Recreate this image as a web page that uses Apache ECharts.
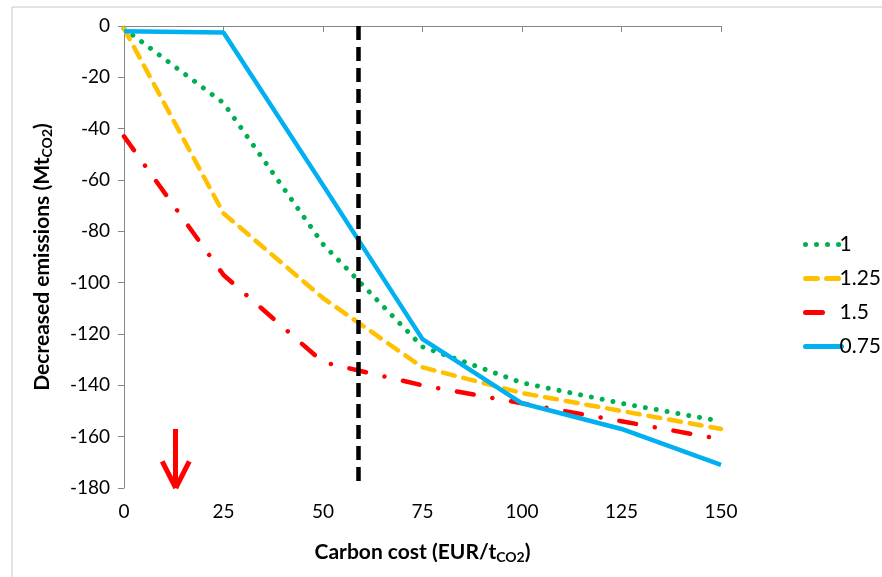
<!DOCTYPE html>
<html><head><meta charset="utf-8">
<script src="https://cdn.jsdelivr.net/npm/echarts@6/dist/echarts.min.js"></script>
<style>html,body{margin:0;padding:0;background:#fff}#c{width:882px;height:577px}</style>
</head><body><div id="c"></div>
<script>
var categories = [0, 25, 50, 75, 100, 125, 150];
var s1 = [-1, -30, -85, -125, -139, -147, -154];      // "1"
var s125 = [-1, -73, -106, -133, -143, -150, -157];   // "1.25"
var s15 = [-43, -97, -131, -140, -147, -154, -161];   // "1.5"
var s075 = [-2, -2.5, -62, -122, -147, -157, -171];   // "0.75"
var seriesNames = ['1', '1.25', '1.5', '0.75'];
var xTicks = [0, 25, 50, 75, 100, 125, 150];
var yTicks = [0, -20, -40, -60, -80, -100, -120, -140, -160, -180];
var refCost = 58.8;
var arrowX = 13, arrowTop = -157, arrowTip = -180;

function pairs(vals){ return categories.map(function(x,i){ return [x, vals[i]]; }); }
var FONT = 'Lato';
var chart = echarts.init(document.getElementById('c'));
chart.setOption({
  backgroundColor: '#fff',
  animation: false,
  grid: {left: 124, right: 161, top: 26, bottom: 89},
  legend: {
    orient: 'vertical', left: 798, top: 229, itemGap: 13, itemWidth: 36, itemHeight: 14,
    data: seriesNames,
    itemStyle: {opacity: 0},
    lineStyle: {width: 5, cap: 'round'},
    textStyle: {fontFamily: FONT, fontSize: 21, color: '#000', padding: [0,0,0,-7]}
  },
  xAxis: {
    type: 'value', min: 0, max: 150, interval: 25,
    name: '{b|Carbon cost (EUR/t}{s|CO2}{b|)}',
    nameLocation: 'middle', nameGap: 53,
    nameTextStyle: {rich: {
      b: {fontFamily: FONT, fontSize: 21, fontWeight: 'bold', color: '#000'},
      s: {fontFamily: FONT, fontSize: 14, fontWeight: 'bold', color: '#000', padding: [9,0,0,0]}
    }},
    axisLine: {lineStyle: {color: '#868686', width: 1}},
    axisTick: {show: true, length: 6, lineStyle: {color: '#868686'}},
    axisLabel: {fontFamily: FONT, fontSize: 19, color: '#000', margin: 14,
      formatter: function(v){ return xTicks.indexOf(v) >= 0 ? String(v) : ''; }},
    splitLine: {show: false}
  },
  yAxis: {
    type: 'value', min: -180, max: 0, interval: 20,
    name: '{b|Decreased emissions (Mt}{s|CO2}{b|)}',
    nameLocation: 'middle', nameGap: 70, nameRotate: 90,
    nameTextStyle: {rich: {
      b: {fontFamily: FONT, fontSize: 21, fontWeight: 'bold', color: '#000'},
      s: {fontFamily: FONT, fontSize: 14, fontWeight: 'bold', color: '#000', padding: [9,0,0,0]}
    }},
    axisLine: {show: true, onZero: false, lineStyle: {color: '#868686', width: 1}},
    axisTick: {show: true, length: 6, lineStyle: {color: '#868686'}},
    axisLabel: {fontFamily: FONT, fontSize: 19, color: '#000', margin: 14,
      formatter: function(v){ return yTicks.indexOf(v) >= 0 ? String(v) : ''; }},
    splitLine: {show: false}
  },
  graphic: [
    {type: 'line', shape: {x1: 12, y1: 7, x2: 882, y2: 7}, style: {stroke: '#c8c8c8', lineWidth: 1}},
    {type: 'line', shape: {x1: 12, y1: 7, x2: 12, y2: 577}, style: {stroke: '#c8c8c8', lineWidth: 1}}
  ],
  series: [
    {name: seriesNames[0], type: 'line', data: pairs(s1), symbol: 'none', z: 3,
     lineStyle: {color: '#00B050', width: 5, type: [0.01, 11], cap: 'round'}, itemStyle: {color: '#00B050'}},
    {name: seriesNames[1], type: 'line', data: pairs(s125), symbol: 'none', z: 3,
     lineStyle: {color: '#FFC000', width: 4.5, type: [12, 9], cap: 'round'}, itemStyle: {color: '#FFC000'}},
    {name: seriesNames[2], type: 'line', data: pairs(s15), symbol: 'none', z: 3,
     lineStyle: {color: '#FF0000', width: 4.5, type: [17, 19, 0.01, 19], cap: 'round'}, itemStyle: {color: '#FF0000'}},
    {name: seriesNames[3], type: 'line', data: pairs(s075), symbol: 'none', z: 4,
     lineStyle: {color: '#00B0F0', width: 4.5, type: 'solid'}, itemStyle: {color: '#00B0F0'},
     markLine: {
       silent: true, symbol: 'none', label: {show: false}, animation: false,
       data: [
         [{coord: [refCost, 0], lineStyle: {color: '#000', width: 4.5, type: [14, 7]}}, {coord: [refCost, -180]}],
         [{coord: [arrowX, arrowTop], lineStyle: {color: '#FF0000', width: 5, type: 'solid'}}, {coord: [arrowX, arrowTip]}],
         [{coord: [arrowX - 3.4, arrowTip + 10.4], lineStyle: {color: '#FF0000', width: 5, type: 'solid'}}, {coord: [arrowX, arrowTip]}],
         [{coord: [arrowX + 3.4, arrowTip + 10.4], lineStyle: {color: '#FF0000', width: 5, type: 'solid'}}, {coord: [arrowX, arrowTip]}]
       ]
     }}
  ]
});
</script></body></html>
